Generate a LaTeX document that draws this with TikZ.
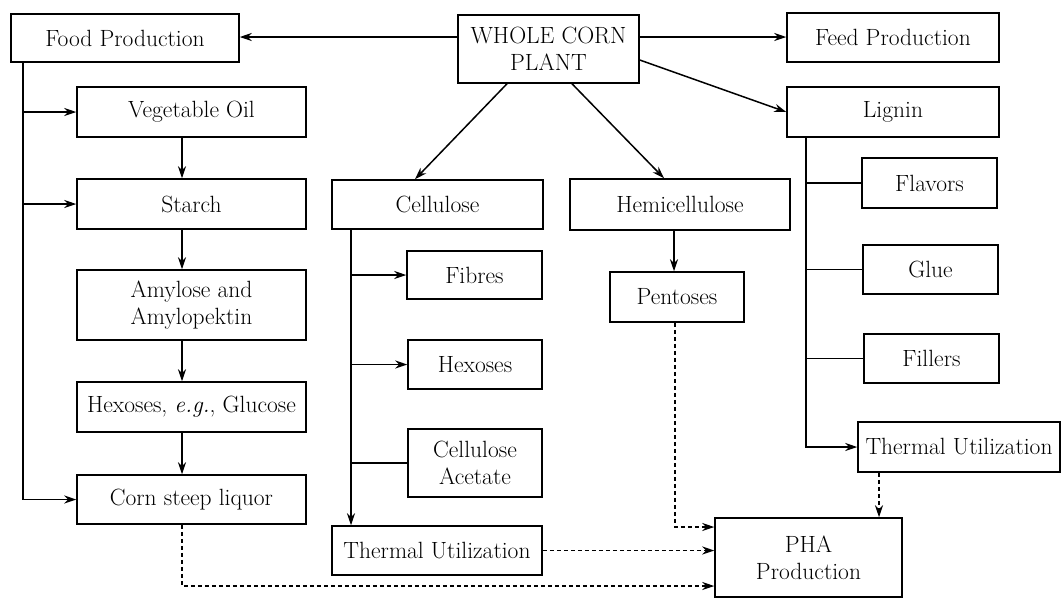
\documentclass[tikz,border=0pt]{standalone}
\usepackage{fontspec}
\usetikzlibrary{arrows.meta,calc}
\tikzset{
  box/.style={draw, line width=1.5pt, inner sep=2pt, align=center},
  conn/.style={line width=1.5pt},
  arr/.style={conn, -{Stealth[length=12pt,width=8pt]}},
  darr/.style={arr, dash pattern=on 4pt off 3pt},
}
\newcommand\bx[6]{\node[box,minimum width={(#4-#2)*1pt},minimum height={(#5-#3)*1pt}] (#1) at ({(#2+#4)/2},{(#3+#5)/2}) {#6};}
\begin{document}
\begin{tikzpicture}[x=1pt,y=-1pt,font=\fontsize{23.5}{27}\selectfont]
\useasboundingbox (0,0) rectangle (1061,598);
% top row
\bx{food}{11}{14}{239}{62}{Food Production}
\bx{wcp}{458}{15}{639}{83}{WHOLE CORN\\PLANT}
\bx{feed}{787}{13}{999}{62}{Feed Production}
\bx{lig}{787}{87}{999}{137}{Lignin}
% left column
\bx{veg}{77}{87}{306}{137}{Vegetable Oil}
\bx{starch}{77}{179}{306}{229}{Starch}
\bx{amy}{77}{270}{306}{340}{Amylose and\\Amylopektin}
\bx{hexg}{77}{382}{306}{432}{Hexoses, \textit{e.g.}, Glucose}
\bx{corn}{77}{475}{306}{524}{Corn steep liquor}
% cellulose column
\bx{cel}{332}{180}{543}{229}{Cellulose}
\bx{fib}{407}{251}{542}{299}{Fibres}
\bx{hexc}{408}{340}{542}{389}{Hexoses}
\bx{ace}{408}{429}{542}{497}{Cellulose\\Acetate}
\bx{thm}{332}{526}{542}{575}{Thermal Utilization}
% hemicellulose column
\bx{hemi}{570}{179}{790}{230}{Hemicellulose}
\bx{pent}{610}{272}{744}{322}{Pentoses}
% lignin column
\bx{fla}{862}{158}{997}{208}{Flavors}
\bx{glue}{863}{245}{998}{294}{Glue}
\bx{fill}{864}{334}{999}{383}{Fillers}
\bx{thr}{858}{422}{1060}{472}{Thermal Utilization}
% PHA
\bx{pha}{715}{518}{902}{597}{PHA\\Production}

% from whole corn plant
\draw[arr] (wcp.west |- 0,37) -- (food.east |- 0,37);
\draw[arr] (wcp.east |- 0,37) -- (feed.west |- 0,37);
\draw[arr] (wcp.east |- 0,60) -- (lig.west |- 0,112);
\draw[arr] (wcp.south -| 507,0) -- (cel.north -| 415,0);
\draw[arr] (wcp.south -| 572,0) -- (hemi.north -| 664,0);

% food production trunk
\coordinate (ft) at (food.south -| 23,0);
\draw[arr] (ft) |- (corn.west);
\draw[arr] (ft |- veg.west) -- (veg.west);
\draw[arr] (ft |- starch.west) -- (starch.west);
\draw[arr] (veg.south -| 182,0) -- (starch.north -| 182,0);
\draw[arr] (starch.south -| 182,0) -- (amy.north -| 182,0);
\draw[arr] (amy.south -| 182,0) -- (hexg.north -| 182,0);
\draw[arr] (hexg.south -| 182,0) -- (corn.north -| 182,0);

% cellulose trunk
\coordinate (ct) at (cel.south -| 351,0);
\draw[arr] (ct) -- (thm.north -| ct);
\draw[arr] (ct |- fib.west) -- (fib.west);
\draw[arr] (ct |- hexc.west) -- (hexc.west);
\draw[conn] (ct |- ace.west) -- (ace.west);

% hemicellulose
\draw[arr] (hemi.south -| 674,0) -- (pent.north -| 674,0);

% lignin trunk
\coordinate (lt) at (lig.south -| 806,0);
\draw[arr] (lt) |- (thr.west);
\draw[conn] (lt |- fla.west) -- (fla.west);
\draw[conn] (lt |- glue.west) -- (glue.west);
\draw[conn] (lt |- fill.west) -- (fill.west);

% dashed to PHA
\draw[darr] (thr.south -| 879,0) -- (pha.north -| 879,0);
\draw[darr] (pent.south -| 675,0) |- (pha.west |- 0,527);
\draw[darr] (thm.east) -- (pha.west |- thm.east);
\draw[darr] (corn.south -| 182,0) |- (pha.west |- 0,586);
\end{tikzpicture}
\end{document}
